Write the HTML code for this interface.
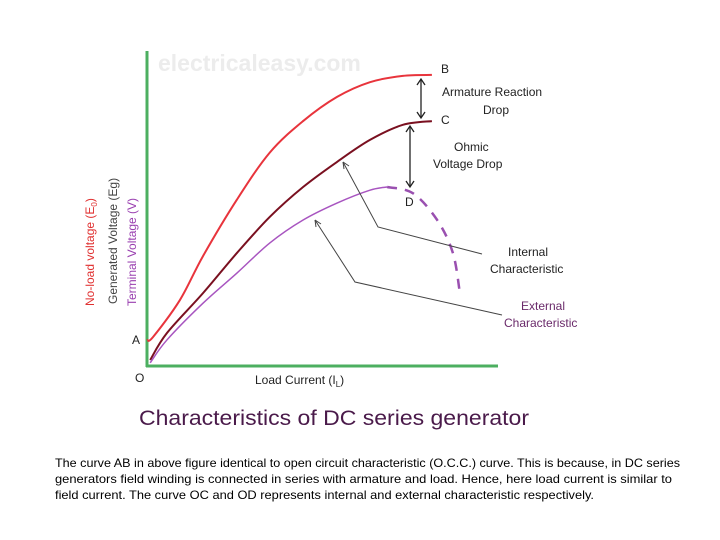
<!DOCTYPE html>
<html><head><meta charset="utf-8"><style>
html,body{margin:0;padding:0;background:#fff;}
svg{display:block;font-family:"Liberation Sans",sans-serif;}
</style></head><body>
<svg id="chart" width="720" height="540" viewBox="0 0 720 540">
<text x="158" y="71" font-size="23" font-weight="bold" fill="#ececec">electricaleasy.com</text>
<line x1="147" y1="51" x2="147" y2="367" stroke="#4caf60" stroke-width="3"/>
<line x1="146" y1="366" x2="498" y2="366" stroke="#4caf60" stroke-width="3"/>
<g id="curves"></g>
<g font-size="12" fill="#222">
<text x="441" y="73">B</text>
<text x="441" y="124">C</text>
<text x="405" y="206">D</text>
<text x="132" y="344">A</text>
<text x="135" y="382">O</text>
<text x="442" y="96">Armature Reaction</text>
<text x="483" y="114">Drop</text>
<text x="454" y="151">Ohmic</text>
<text x="433" y="168">Voltage Drop</text>
<text x="508" y="256">Internal</text>
<text x="490" y="273">Characteristic</text>
<text x="521" y="310" fill="#6a2a6a">External</text>
<text x="504" y="327" fill="#6a2a6a">Characteristic</text>
<text x="255" y="384">Load Current (I<tspan font-size="8" dy="3">L</tspan><tspan dy="-3">)</tspan></text>
<text transform="translate(94,306) rotate(-90)" fill="#e03030">No-load voltage (E<tspan font-size="8" dy="3">0</tspan><tspan dy="-3">)</tspan></text>
<text transform="translate(117,304) rotate(-90)" fill="#444">Generated Voltage (Eg)</text>
<text transform="translate(136,306) rotate(-90)" fill="#9a40b0">Terminal Voltage (V)</text>
</g>
<g stroke="#222" stroke-width="1.3" fill="none">
<line x1="421" y1="80" x2="421" y2="117"/>
<path d="M417,85 L421,79 L425,85 M417,112 L421,118 L425,112"/>
<line x1="410" y1="127" x2="410" y2="186"/>
<path d="M406,132 L410,126 L414,132 M406,181 L410,187 L414,181"/>
</g>
<g stroke="#444" stroke-width="1" fill="none">
<path d="M343,162 L378,227 L482,254"/>
<path d="M343,162 L344,169 M343,162 L349,166"/>
<path d="M315,220 L355,282 L502,315"/>
<path d="M315,220 L316,227 M315,220 L321,224"/>
</g>
<text x="139" y="425" font-size="21" fill="#4a1a4a" textLength="390" lengthAdjust="spacingAndGlyphs">Characteristics of DC series generator</text>
<g font-family="'Liberation Sans Narrow','Liberation Sans',sans-serif" font-size="12" fill="#000">
<text x="55" y="467" textLength="625" lengthAdjust="spacingAndGlyphs">The curve AB in above figure identical to open circuit characteristic (O.C.C.) curve. This is because, in DC series</text>
<text x="55" y="483" textLength="617" lengthAdjust="spacingAndGlyphs">generators field winding is connected in series with armature and load. Hence, here load current is similar to</text>
<text x="55" y="499" textLength="539" lengthAdjust="spacingAndGlyphs">field current. The curve OC and OD represents internal and external characteristic respectively.</text>
</g>
</svg>
<script>
const noLoadX=[0,1.7,9.4,16,25.7,35.1,44.6,54.3,63.7,73.1,81.4];
const noLoadY=[8.3,9.2,21,35,53,68,78,85.7,90.4,92.4,92.7];
const internalX=[0.9,5.7,16,25.7,35.1,44.6,54.3,63.7,73.1,81.4];
const internalY=[1.9,10.5,23.2,36,47.5,57,65,72,76.8,78];
const externalX=[0.9,5.7,16,25.7,35.1,44.6,54.3,63.7,68.6];
const externalY=[1,8.3,20,29.6,39.2,46.5,51.9,56,57];
const dashedX=[68.6,76,82.9,87.4,89.4];
const dashedY=[57,55,46.5,36,23.2];
function sx(v){return 147+v*3.5;}
function sy(v){return 366-v*3.14;}
function pathOf(xs,ys){
  const p=xs.map((x,i)=>[sx(x),sy(ys[i])]);
  let d='M'+p[0][0]+','+p[0][1];
  for(let i=0;i<p.length-1;i++){
    const p0=p[Math.max(0,i-1)],p1=p[i],p2=p[i+1],p3=p[Math.min(p.length-1,i+2)];
    const c1x=p1[0]+(p2[0]-p0[0])/6,c1y=p1[1]+(p2[1]-p0[1])/6;
    const c2x=p2[0]-(p3[0]-p1[0])/6,c2y=p2[1]-(p3[1]-p1[1])/6;
    d+=' C'+c1x+','+c1y+' '+c2x+','+c2y+' '+p2[0]+','+p2[1];
  }
  return d;
}
const g=document.getElementById('curves');
function add(xs,ys,color,w,dash,name){
  const el=document.createElementNS('http://www.w3.org/2000/svg','path');
  el.setAttribute('d',pathOf(xs,ys));
  el.setAttribute('fill','none');
  el.setAttribute('stroke',color);
  el.setAttribute('stroke-width',w);
  if(dash)el.setAttribute('stroke-dasharray',dash);
  
  
  g.appendChild(el);
}
add(noLoadX,noLoadY,'#e8343c',2,null,'no-load-curve-ab');
add(internalX,internalY,'#7a1020',2,null,'internal-characteristic-oc');
add(externalX,externalY,'#a855c0',1.5,null,'external-characteristic-od');
add(dashedX,dashedY,'#9a50b0',2.5,'10,8','external-characteristic-dashed');
</script>
</body></html>
